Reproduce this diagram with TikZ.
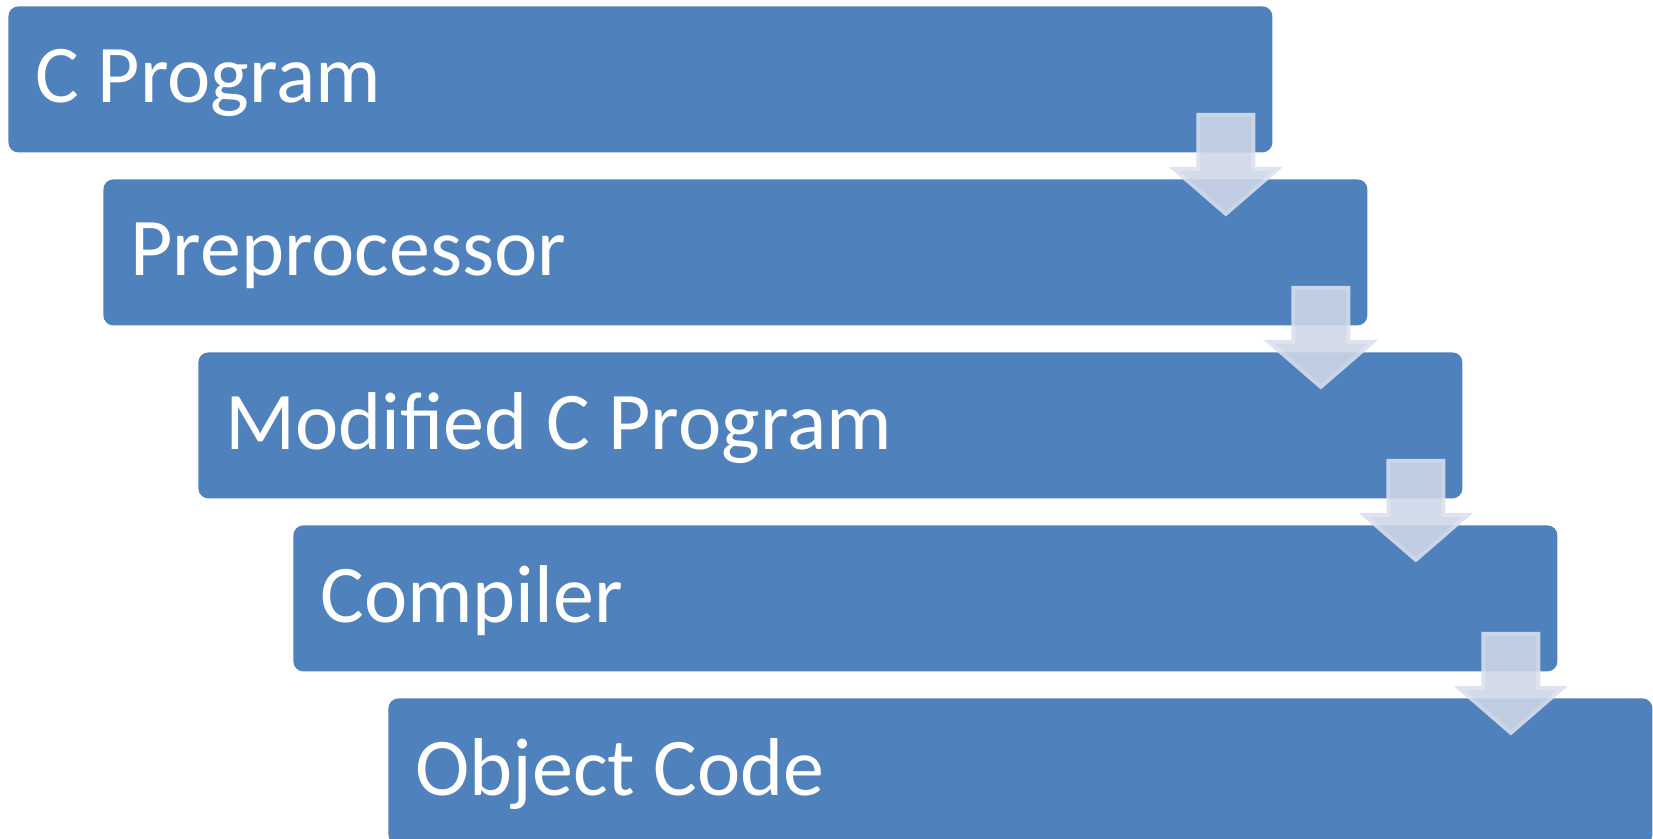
\documentclass[tikz,border=0pt]{standalone}
\usepackage{fontspec}
\setmainfont{Carlito}
\usetikzlibrary{calc}
\definecolor{boxblue}{RGB}{79,129,189}
\definecolor{arrowfill}{RGB}{206,214,231}
\definecolor{arrowedge}{RGB}{218,224,237}
\begin{document}
\begin{tikzpicture}[x=0.5pt,y=-0.5pt,
  stagebox/.style={fill=boxblue, rounded corners=5pt, minimum width=632pt, minimum height=73pt, anchor=north west, inner sep=0pt, draw=none},
  stagelabel/.style={text=white, font=\fontsize{41}{49}\selectfont, anchor=base west, inner sep=0pt},
  flowarrow/.style={fill=arrowfill, draw=arrowedge, line width=2pt, line join=miter}
]
\clip (0,0) rectangle (1653,839);
\node[stagebox] (b1) at (8,6) {};
\node[stagebox] (b2) at (103,179) {};
\node[stagebox] (b3) at (198,352) {};
\node[stagebox] (b4) at (293,525) {};
\node[stagebox] (b5) at (388,698) {};
\node[stagelabel] (t1) at ($(b1.north west)+(27,97)$) {C Program};
\node[stagelabel] (t2) at ($(b2.north west)+(27,97)$) {Preprocessor};
\node[stagelabel] (t3) at ($(b3.north west)+(27,97)$) {Modified C Program};
\node[stagelabel] (t4) at ($(b4.north west)+(27,97)$) {Compiler};
\node[stagelabel] (t5) at ($(b5.north west)+(27,97)$) {Object Code};
\foreach \i in {1,...,4} {
  \coordinate (a\i) at ($(b\i.south east)+(-47,0)$);
  \begin{scope}[transparency group, opacity=0.89]
    \draw[flowarrow] ($(a\i)+(-27.5,-38)$) -- ($(a\i)+(27.5,-38)$) -- ($(a\i)+(27.5,16)$) -- ($(a\i)+(52,16)$) -- ($(a\i)+(0,61)$) -- ($(a\i)+(-52,16)$) -- ($(a\i)+(-27.5,16)$) -- cycle;
  \end{scope}
}
\end{tikzpicture}
\end{document}
